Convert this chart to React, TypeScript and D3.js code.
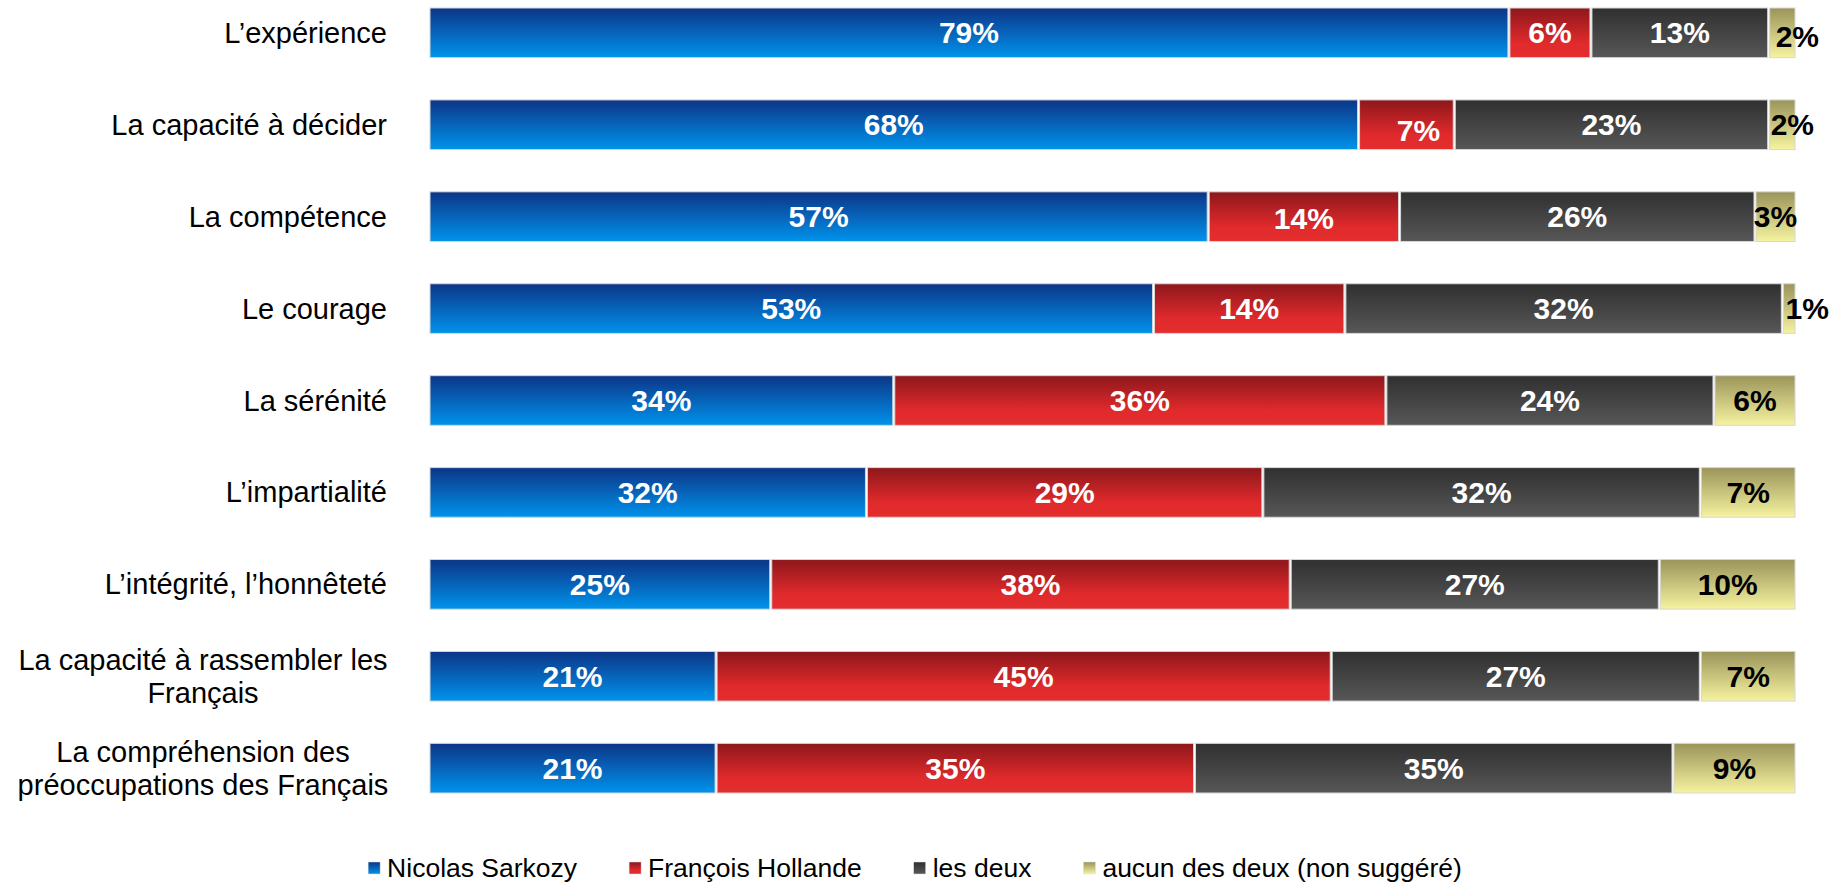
import React, { useEffect, useRef } from 'react'
import * as d3 from 'd3'

const W = 1846
const H = 883

// categories (top to bottom), \n marks the wrapped lines
const categories = [
  'L’expérience',
  'La capacité à décider',
  'La compétence',
  'Le courage',
  'La sérénité',
  'L’impartialité',
  'L’intégrité, l’honnêteté',
  'La capacité à rassembler les\nFrançais',
  'La compréhension des\npréoccupations des Français'
]

const seriesNames = ['Nicolas Sarkozy', 'François Hollande', 'les deux', 'aucun des deux (non suggéré)']

const sarkozy = [79, 68, 57, 53, 34, 32, 25, 21, 21]
const hollande = [6, 7, 14, 14, 36, 29, 38, 45, 35]
const lesDeux = [13, 23, 26, 32, 24, 32, 27, 27, 35]
const aucun = [2, 2, 3, 1, 6, 7, 10, 7, 9]

// hand-placed labels in the original (row, series, dx, dy)
const labelNudges = [
  { row: 0, s: 3, dx: 15, dy: 4 },
  { row: 1, s: 1, dx: 12, dy: 6 },
  { row: 1, s: 3, dx: 10, dy: 0 },
  { row: 2, s: 1, dx: 0, dy: 2 },
  { row: 3, s: 3, dx: 18, dy: 0 }
]

const gradients = [
  { id: 'g-sarkozy', stops: [['0%', '#0c3587'], ['100%', '#0093ec']] },
  { id: 'g-hollande', stops: [['0%', '#8d171b'], ['70%', '#e02a2c'], ['100%', '#e42d2d']] },
  { id: 'g-deux', stops: [['0%', '#303030'], ['100%', '#575757']] },
  { id: 'g-aucun', stops: [['0%', '#9a945a'], ['100%', '#f6f3a0']] }
]

const labelColors = ['#ffffff', '#ffffff', '#ffffff', '#000000']

const App: React.FC = () => {
  const svgRef = useRef<SVGSVGElement>(null)

  useEffect(() => {
    if (!svgRef.current) return
    const svg = d3.select(svgRef.current)
    svg.selectAll('*').remove()

    const font = 'Arial, "Liberation Sans", Helvetica, sans-serif'

    const defs = svg.append('defs')
    gradients.forEach(g => {
      const lg = defs.append('linearGradient')
        .attr('id', g.id)
        .attr('x1', 0).attr('y1', 0).attr('x2', 0).attr('y2', 1)
      g.stops.forEach(([o, c]) => lg.append('stop').attr('offset', o).attr('stop-color', c))
    })

    const x = d3.scaleLinear().domain([0, 100]).range([429, 1796])
    const y = d3.scaleBand<number>()
      .domain(d3.range(categories.length))
      .range([8, 793])
      .paddingInner(0.46)
      .paddingOuter(0)

    const rows = categories.map((c, i) => ({
      cat: c,
      sarkozy: sarkozy[i],
      hollande: hollande[i],
      deux: lesDeux[i],
      aucun: aucun[i]
    }))
    const stacked = d3.stack<typeof rows[number]>()
      .keys(['sarkozy', 'hollande', 'deux', 'aucun'])(rows)

    const g = svg.append('g')

    stacked.forEach((layer, si) => {
      const lg = g.append('g')
      lg.selectAll('rect')
        .data(layer)
        .enter()
        .append('rect')
        .attr('x', d => x(d[0]) + 1)
        .attr('y', (_, i) => y(i) ?? 0)
        .attr('width', d => Math.max(0, x(d[1]) - x(d[0]) - 2))
        .attr('height', y.bandwidth())
        .attr('fill', `url(#${gradients[si].id})`)
        .attr('stroke', '#d6d6d6')
        .attr('stroke-width', 1)

      lg.selectAll('text')
        .data(layer)
        .enter()
        .append('text')
        .attr('x', (d, i) => {
          const n = labelNudges.find(l => l.row === i && l.s === si)
          return (x(d[0]) + x(d[1])) / 2 + (n ? n.dx : 0)
        })
        .attr('y', (_, i) => {
          const n = labelNudges.find(l => l.row === i && l.s === si)
          return (y(i) ?? 0) + y.bandwidth() / 2 + 10.5 + (n ? n.dy : 0)
        })
        .attr('text-anchor', 'middle')
        .style('font-family', font)
        .style('font-size', '30px')
        .style('font-weight', 'bold')
        .style('fill', labelColors[si])
        .text(d => `${d[1] - d[0]}%`)
    })

    // category labels
    const catG = svg.append('g')
    categories.forEach((c, i) => {
      const lines = c.split('\n')
      const cy = (y(i) ?? 0) + y.bandwidth() / 2
      const lh = 33
      const t = catG.append('text')
        .style('font-family', font)
        .style('font-size', '29px')
        .style('fill', '#000')
        .attr('text-anchor', lines.length > 1 ? 'middle' : 'end')
      lines.forEach((ln, li) => {
        t.append('tspan')
          .attr('x', lines.length > 1 ? 203 : 387)
          .attr('y', cy + (li - (lines.length - 1) / 2) * lh + 10)
          .text(ln)
      })
    })

    // legend
    const legend = svg.append('g')
    let cx = 0
    seriesNames.forEach((name, si) => {
      const item = legend.append('g').attr('transform', `translate(${cx},0)`)
      item.append('rect')
        .attr('x', 0).attr('y', -15)
        .attr('width', 12).attr('height', 12)
        .attr('fill', `url(#${gradients[si].id})`)
        .attr('stroke', '#ddd')
        .attr('stroke-width', 0.5)
      const txt = item.append('text')
        .attr('x', 19)
        .attr('y', 0)
        .style('font-family', font)
        .style('font-size', '26.5px')
        .style('fill', '#000')
        .text(name)
      const w = (txt.node() as SVGTextElement).getComputedTextLength()
      cx += 19 + w + 52
    })
    const total = cx - 52
    legend.attr('transform', `translate(${915 - total / 2},877)`)
  }, [])

  return (
    <svg
      ref={svgRef}
      width={W}
      height={H}
      style={{ position: 'absolute', left: 0, top: 0, background: '#fff' }}
    />
  )
}

export default App
